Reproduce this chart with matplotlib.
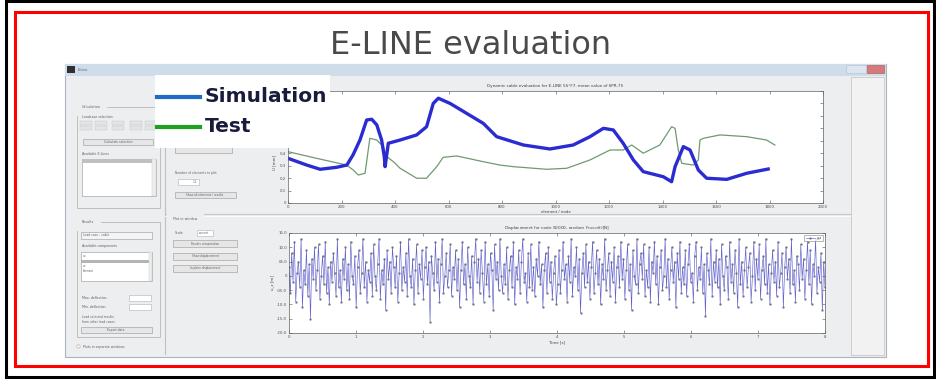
import numpy as np
import matplotlib
matplotlib.use('Agg')
import matplotlib.pyplot as plt
from matplotlib.patches import Rectangle

# Upper plot: dynamic cable evaluation (element / node vs. value)
sim_x = [0, 70, 120, 182, 220, 243, 269, 294, 313, 332, 350, 360, 363, 375, 419, 481, 518,
         543, 562, 606, 668, 730, 780, 880, 979, 1066, 1129, 1179, 1216, 1253, 1291, 1328,
         1403, 1434, 1447, 1478, 1503, 1534, 1565, 1640, 1715, 1795]
sim_y = [0.359, 0.305, 0.271, 0.287, 0.305, 0.386, 0.506, 0.667, 0.673, 0.627, 0.506, 0.372,
         0.292, 0.48, 0.506, 0.547, 0.613, 0.80, 0.842, 0.80, 0.72, 0.64, 0.533, 0.466, 0.434,
         0.466, 0.533, 0.60, 0.587, 0.48, 0.346, 0.252, 0.211, 0.171, 0.292, 0.453, 0.426,
         0.265, 0.199, 0.19, 0.239, 0.273]

test_x = [1, 107, 219, 244, 263, 288, 306, 332, 356, 369, 394, 419, 481, 518, 556, 580, 631,
          730, 792, 842, 967, 1042, 1129, 1204, 1253, 1285, 1328, 1390, 1434, 1447, 1459,
          1472, 1515, 1534, 1540, 1553, 1615, 1715, 1789, 1820]
test_y = [0.412, 0.359, 0.305, 0.265, 0.225, 0.239, 0.52, 0.506, 0.453, 0.372, 0.332, 0.279,
          0.199, 0.199, 0.292, 0.367, 0.378, 0.332, 0.305, 0.292, 0.271, 0.279, 0.346, 0.426,
          0.426, 0.466, 0.40, 0.466, 0.613, 0.60, 0.426, 0.319, 0.305, 0.346, 0.506, 0.52,
          0.547, 0.533, 0.506, 0.466]

upper_xticks = [0, 200, 400, 600, 800, 1000, 1200, 1400, 1600, 1800, 2000]
upper_yticks = [0, 0.1, 0.2, 0.3, 0.4, 0.5, 0.6, 0.7, 0.8, 0.9]
# labels above 0.4 sit under the pasted legend box in the slide
upper_ylabels = ['0', '0.1', '0.2', '0.3', '0.4', '', '', '', '', '']

# Lower plot: displacement time history (sampled over 0..8 s)
disp = [3, -6, 8, -2, 12, -9, 1, 5, -4, 13, -11, 2, -3, 9, -7, 4, -15, 6, -1, 10,
        -5, 2, 11, -8, 0, 7, -3, 12, -6, 3, -10, 5, -2, 8, 1, -7, 13, -4, 2, -9,
        6, -1, 10, -5, 4, -8, 12, 0, -3, 7, -11, 3, 9, -6, 1, 13, -4, 5, -9, 2,
        -2, 8, -7, 11, 0, -5, 4, 13, -8, 2, -3, 6, -12, 9, -1, 5, -6, 10, 3, -4,
        7, -9, 1, 12, -5, 3, -2, 8, -7, 13, 0, -4, 6, -10, 2, 11, -6, 4, -1, 9,
        -8, 3, 10, -3, 5, -16, 7, 1, -5, 12, -2, 6, -9, 4, 13, -6, 0, 8, -4, 2,
        11, -7, 3, -1, 9, -5, 6, -11, 2, 12, -3, 4, -8, 10, 0, -4, 7, -10, 5, 13,
        -2, 6, -6, 9, 1, -9, 12, -3, 4, -7, 8, 2, -12, 11, -1, 5, -5, 13, 0, -6,
        4, -3, 10, -8, 2, 7, -4, 12, -10, 3, -1, 9, -6, 5, 13, -2, 1, -9, 8, -4,
        11, -5, 3, -7, 6, 0, 12, -3, 4, -11, 2, 8, -6, 10, -2, 5, -8, 1, 7, -10,
        -3, 9, -6, 2, 12, -1, 4, -9, 7, -2, 13, -7, 3, 0, 10, -5, 6, -13, 1, 8,
        -4, 11, -2, 5, -8, 3, 12, -6, 1, 9, -3, 6, -10, 4, -1, 13, -5, 2, 8, -7,
        5, -2, 10, -9, 3, 7, -4, 12, -1, 6, -8, 2, 11, -5, 4, -12, 9, 0, -3, 13,
        -6, 4, 8, -1, 11, -7, 2, -4, 10, -9, 5, 1, 12, -3, 7, -10, 3, 9, -5, 0,
        13, -4, 6, -8, 2, 10, -2, 5, -11, 8, -1, 12, -6, 3, -3, 9, -7, 4, 11, -2,
        1, -9, 7, 12, -5, 3, -1, 10, -6, 4, -14, 8, 2, -3, 13, -7, 5, -2, 9, -4,
        6, -10, 11, 0, -5, 7, 3, -8, 12, -2, 4, -6, 9, 1, -11, 13, -3, 5, -7, 2,
        10, -4, 3, 8, -9, 0, 12, -5, 6, -1, 11, -8, 2, 7, -3, 13, -6, 4, -10, 1,
        9, -2, 5, -7, 12, -4, 1, 8, -11, 3, 10, -1, 6, -6, 13, -3, 2, -9, 7, 4,
        -5, 11, -1, 6, -8, 2, 12, -3, 9, -10, 4, 0, 13, -6, 3, -2, 8, -12, 5, -4]
lower_xticks = [0, 1, 2, 3, 4, 5, 6, 7, 8]
lower_yticks = [-20, -15, -10, -5, 0, 5, 10, 15]
lower_ylabels = ['-20.0', '-15.0', '-10.0', '-05.0', '0', '05.0', '10.0', '15.0']

W, H = 936, 382
fig = plt.figure(figsize=(W / 100, H / 100), dpi=100)
fig.patch.set_facecolor('white')

# background in pixel coordinates
bg = fig.add_axes([0, 0, 1, 1])
bg.set_xlim(0, W)
bg.set_ylim(H, 0)
bg.axis('off')


def rect(ax, x0, y0, x1, y1, fc='none', ec='none', lw=0.6, z=1):
    ax.add_patch(Rectangle((x0, y0), x1 - x0, y1 - y0, facecolor=fc, edgecolor=ec, linewidth=lw, zorder=z))


def tiny(ax, x, y, s, size=2.6, **kw):
    ax.text(x, y, s, fontsize=size, color='#606060', va='center', **kw)


# slide frame
rect(bg, 6, 1, 934, 377, ec='black', lw=2.2)
rect(bg, 15, 12, 928, 366, ec='#ff0000', lw=2.2)
bg.text(471, 45, 'E-LINE evaluation', fontsize=23, color='#4a4a4a', ha='center', va='center')

# window
rect(bg, 65, 64, 886, 357, fc='#eceef0', ec='#a8b4c0', lw=0.8)
rect(bg, 65, 64, 886, 76, fc='#cfdcea', ec='none')
rect(bg, 67, 66, 75, 73, fc='#303030')
tiny(bg, 78, 70, 'E-Line', size=2.4)
rect(bg, 846, 65, 866, 73, fc='#dde6f0', ec='#b0bccc', lw=0.4)
rect(bg, 867, 65, 884, 73, fc='#d47a7a', ec='#b05050', lw=0.4)
rect(bg, 851, 77, 884, 355, fc='#f2f2f2', ec='#c8c8c8', lw=0.6)
bg.plot([165, 165], [77, 354], color='#c0c0c0', lw=0.8)
bg.plot([165, 850], [214, 214], color='#c8c8c8', lw=0.8)
bg.plot([165, 850], [216, 216], color='#ffffff', lw=0.6)

# left panel: calculation group
rect(bg, 77, 107, 160, 208, ec='#b8b8b8', lw=0.6)
tiny(bg, 82, 107, 'Calculation', size=2.4, backgroundcolor='#eceef0')
tiny(bg, 82, 117, 'Loadcase selection', size=2.3)
for yy in (123, 128):
    for xx in (80, 95, 112, 130, 145):
        rect(bg, xx, yy - 2, xx + 12, yy + 2, fc='#e4e4e4', ec='#c4c4c4', lw=0.3)
rect(bg, 83, 139, 153, 145, fc='#e6e6e6', ec='#a8a8a8', lw=0.5)
tiny(bg, 118, 142, 'Calculate selection', size=2.2, ha='center')
tiny(bg, 82, 154, 'Available E-Lines', size=2.3)
rect(bg, 82, 159, 156, 196, fc='white', ec='#a8a8a8', lw=0.5)
rect(bg, 82, 159, 152, 163, fc='#c0c0c0')
rect(bg, 152, 159, 156, 196, fc='#eeeeee', ec='#c8c8c8', lw=0.3)

# left panel: results group
rect(bg, 77, 222, 160, 337, ec='#b8b8b8', lw=0.6)
tiny(bg, 82, 222, 'Results', size=2.4, backgroundcolor='#eceef0')
rect(bg, 81, 232, 152, 239, fc='#f4f4f4', ec='#a8a8a8', lw=0.5)
tiny(bg, 83, 235.5, 'Load case - cable', size=2.2)
tiny(bg, 82, 246, 'Available components', size=2.3)
rect(bg, 81, 252, 152, 281, fc='white', ec='#a8a8a8', lw=0.5)
rect(bg, 81, 260, 149, 263, fc='#b4b4b4')
for yy, s in ((256, 'ux'), (266, 'uz'), (271, 'Fsensor')):
    tiny(bg, 83, yy, s, size=2.1)
rect(bg, 149, 252, 152, 281, fc='#eeeeee', ec='#c8c8c8', lw=0.3)
tiny(bg, 82, 298, 'Max. deflection', size=2.3)
rect(bg, 129, 295, 151, 301, fc='white', ec='#b0b0b0', lw=0.4)
tiny(bg, 82, 307, 'Min. deflection', size=2.3)
rect(bg, 129, 304, 151, 310, fc='white', ec='#b0b0b0', lw=0.4)
tiny(bg, 82, 317, 'Load selected results', size=2.2)
tiny(bg, 82, 322, 'from other load cases', size=2.2)
rect(bg, 81, 327, 152, 333, fc='#e6e6e6', ec='#a8a8a8', lw=0.5)
tiny(bg, 116, 330, 'Export data', size=2.2, ha='center')
rect(bg, 77, 345, 80, 348, fc='white', ec='#909090', lw=0.3)
tiny(bg, 83, 347, 'Plots in separate windows', size=2.3)

# upper right control column
rect(bg, 175, 147, 232, 153, fc='#e6e6e6', ec='#a8a8a8', lw=0.5)
tiny(bg, 175, 173, 'Number of elements to plot', size=2.2)
rect(bg, 178, 179, 199, 185, fc='white', ec='#b0b0b0', lw=0.4)
tiny(bg, 193, 182, '1:1', size=2.1)
rect(bg, 175, 192, 236, 198, fc='#e6e6e6', ec='#a8a8a8', lw=0.5)
tiny(bg, 205, 195, 'Show all elements / results', size=2.0, ha='center')

# lower control column
tiny(bg, 173, 219, 'Plot in window', size=2.4, backgroundcolor='#eceef0')
tiny(bg, 175, 233, 'Scale', size=2.3)
rect(bg, 197, 230, 213, 236, fc='white', ec='#b0b0b0', lw=0.4)
tiny(bg, 199, 233, 'current', size=2.0)
for yy, s in ((240, 'Results computation'), (253, 'Show displacement'), (265, 'In plane displacement')):
    rect(bg, 173, yy, 237, yy + 7, fc='#e6e6e6', ec='#a8a8a8', lw=0.5)
    tiny(bg, 205, yy + 3.5, s, size=2.0, ha='center')


def style_axes(ax):
    ax.set_facecolor('white')
    ax.tick_params(direction='in', length=2, width=0.4, labelsize=2.8, colors='#505050',
                   top=True, right=True, pad=1.5)
    for sp in ax.spines.values():
        sp.set_linewidth(0.5)
        sp.set_color('#606060')


# upper plot
ax1 = fig.add_axes([288 / W, 1 - 203 / H, 535 / W, 112 / H])
style_axes(ax1)
ax1.plot(test_x, test_y, color='#6f9a6f', lw=0.9)
ax1.plot(sim_x, sim_y, color='#2b2bd2', lw=2.4, solid_joinstyle='round')
ax1.set_xlim(0, 2000)
ax1.set_ylim(0, 0.9)
ax1.set_xticks(upper_xticks)
ax1.set_yticks(upper_yticks)
ax1.set_yticklabels(upper_ylabels)
ax1.set_title('Dynamic cable evaluation for E-LINE 55°F7, mean value of SPR-75', fontsize=3,
              color='#404040', pad=3)
ax1.set_xlabel('element / node', fontsize=2.8, color='#404040', labelpad=1)
ax1.set_ylabel('U [mm]', fontsize=2.8, color='#404040', labelpad=2)
ax1.yaxis.set_label_coords(-0.022, 0.36)

# lower plot
ax2 = fig.add_axes([289 / W, 1 - 333 / H, 536 / W, 100 / H])
style_axes(ax2)
t = np.linspace(0, 8, len(disp))
ax2.plot(t, disp, color='#4646c4', lw=0.45, marker='.', ms=1.4, mfc='#6a6a7a', mec='#6a6a7a',
         alpha=0.85, label='u_z')
ax2.set_xlim(0, 8)
ax2.set_ylim(-20, 15)
ax2.set_xticks(lower_xticks)
ax2.set_yticks(lower_yticks)
ax2.set_yticklabels(lower_ylabels)
ax2.set_title('Displacement for node 50000, random $F_{sensor}(t)$[N]', fontsize=3,
              color='#404040', pad=3)
ax2.set_xlabel('Time [s]', fontsize=2.8, color='#404040', labelpad=1)
ax2.set_ylabel('u_z [m]', fontsize=2.8, color='#404040', labelpad=2)
leg = ax2.legend(loc='upper right', fontsize=2.2, frameon=True, handlelength=3,
                 borderpad=0.4, fancybox=False)
leg.get_frame().set_linewidth(0.4)
leg.get_frame().set_edgecolor('#606060')

# legend box pasted on top of the screenshot
ov = fig.add_axes([0, 0, 1, 1])
ov.set_xlim(0, W)
ov.set_ylim(H, 0)
ov.axis('off')
ov.patch.set_alpha(0)
rect(ov, 155, 75, 330, 148, fc='white', z=5)
ov.plot([157, 200], [97, 97], color='#1f6cc4', lw=3, zorder=6)
ov.plot([157, 200], [127, 127], color='#20a020', lw=3, zorder=6)
ov.text(205, 97, 'Simulation', fontsize=14.5, fontweight='bold', color='#1a1a3c',
        va='center', zorder=7)
ov.text(205, 127, 'Test', fontsize=14.5, fontweight='bold', color='#1a1a3c',
        va='center', zorder=7)

fig.savefig('out.png', dpi=100)
